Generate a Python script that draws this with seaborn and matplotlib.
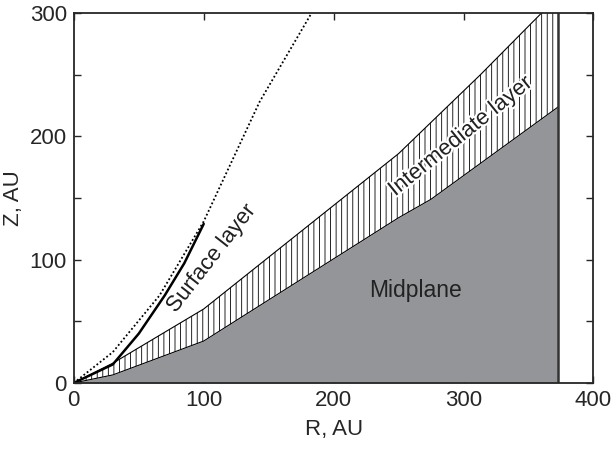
import numpy as np
import pandas as pd
import seaborn as sns
import matplotlib.pyplot as plt
import matplotlib.patheffects as pe
from matplotlib.ticker import MultipleLocator

# boundary between midplane and intermediate layer
mid_r = [0, 30, 100, 250, 275, 373]
mid_z = [0, 6.5, 34, 134, 149, 224]

# upper boundary of the intermediate layer
inter_r = [0, 30, 100, 250, 313, 360, 373]
inter_z = [0, 16, 60, 186, 250, 300, 314]

# surface layer curves
solid_r = [0, 30, 50, 70, 85, 100]
solid_z = [0, 15, 40, 71, 97, 129]
dotted_r = [0, 30, 66, 100, 143, 183]
dotted_z = [0, 25, 71, 131, 228, 300]

r_edge = 373

sns.set_style("ticks")
plt.rcParams['font.family'] = ['Liberation Sans', 'DejaVu Sans']
plt.rcParams['hatch.linewidth'] = 0.6
fig, ax = plt.subplots(figsize=(6.15, 4.5), dpi=100)

# common r grid so both boundaries can bound the hatched band
r_all = sorted(set(mid_r) | set(inter_r))
lo = np.interp(r_all, mid_r, mid_z)
hi = np.interp(r_all, inter_r, inter_z)

ax.fill_between(mid_r, 0, mid_z, color='#939598', lw=0)
ax.fill_between(r_all, lo, hi, facecolor='white', edgecolor='black',
                hatch='|||', lw=0)
sns.lineplot(x=mid_r, y=mid_z, color='black', lw=0.8, ax=ax)
sns.lineplot(x=inter_r, y=inter_z, color='black', lw=0.8, ax=ax)

surf = pd.DataFrame({'R': solid_r, 'Z': solid_z})
sns.lineplot(data=surf, x='R', y='Z', color='black', lw=1.8, ax=ax)
dots = pd.DataFrame({'R': dotted_r, 'Z': dotted_z})
sns.lineplot(data=dots, x='R', y='Z', color='black', lw=1.3, ls=(0, (1, 1.3)), ax=ax)

ax.axvline(r_edge, color='#333333', lw=1.8)

halo = [pe.withStroke(linewidth=3, foreground='white')]
ax.text(263, 75, "Midplane", fontsize=16.5, ha='center', va='center', color='#222222')
ax.text(106, 101, "Surface layer", fontsize=16, ha='center', va='center',
        rotation=52, color='#222222', path_effects=halo)
ax.text(298, 200, "Intermediate layer", fontsize=16, ha='center', va='center',
        rotation=39, color='#222222', path_effects=halo)

ax.set_xlim(0, 400)
ax.set_ylim(0, 300)
ax.xaxis.set_major_locator(MultipleLocator(100))
ax.yaxis.set_major_locator(MultipleLocator(100))
ax.yaxis.set_minor_locator(MultipleLocator(50))
ax.tick_params(which='both', direction='in', top=True, right=True,
               labelsize=16, length=5, width=1, pad=5)
ax.set_xlabel("R, AU", fontsize=16, labelpad=6)
ax.set_ylabel("Z, AU", fontsize=16)
for s in ax.spines.values():
    s.set_linewidth(1.3)

plt.subplots_adjust(left=0.12, right=0.965, bottom=0.149, top=0.971)
plt.savefig("out.png")
